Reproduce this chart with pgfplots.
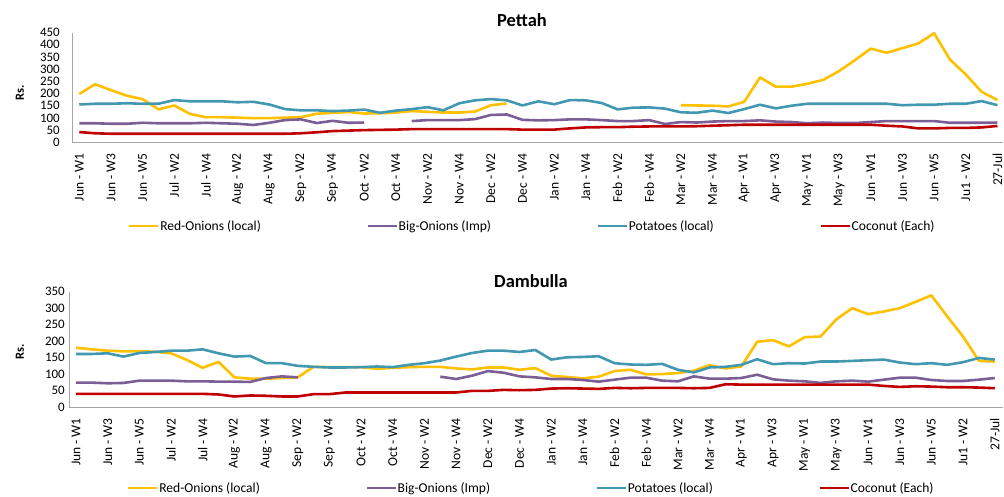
\documentclass[border=0pt]{standalone}
\usepackage{fontspec}
\setmainfont{Carlito}
\usepackage{pgfplots}
\usepackage{pgfplotstable}
\pgfplotsset{compat=1.18}

\definecolor{ronion}{HTML}{FFC000}
\definecolor{bonion}{HTML}{7B5E95}
\definecolor{potato}{HTML}{4298B0}
\definecolor{coconut}{HTML}{C00000}
\definecolor{axisgray}{HTML}{A6A6A6}

% weekly prices, Rs.  (ro = red onions, bo = big onions, po = potatoes, co = coconut)
\pgfplotstableread{
x ro bo po co
0 198 78 155 42
1 238 78 158 37
2 214 76 158 35
3 191 76 160 35
4 177 80 158 35
5 135 78 158 35
6 151 78 173 35
7 116 78 168 35
8 103 80 168 35
9 103 78 168 35
10 101 76 164 35
11 99 71 166 35
12 99 80 155 35
13 101 91 136 35
14 103 94 131 37
15 117 79 131 41
16 121 88 128 46
17 124 80 130 48
18 118 81 134 50
19 119 nan 121 51
20 122 nan 130 52
21 128 87 136 54
22 125 91 144 54
23 122 91 131 54
24 122 91 160 54
25 126 95 172 54
26 152 112 177 54
27 159 114 172 54
28 nan 92 151 52
29 nan 90 168 52
30 nan 91 156 52
31 nan 94 173 57
32 nan 94 172 61
33 nan 91 161 62
34 nan 87 135 62
35 nan 87 142 64
36 nan 91 143 65
37 nan 75 138 65
38 152 83 123 65
39 151 81 121 66
40 150 85 130 68
41 147 87 120 70
42 166 87 136 72
43 266 90 154 72
44 228 85 139 72
45 228 83 150 72
46 240 78 158 72
47 256 81 158 72
48 292 79 158 72
49 337 79 158 72
50 384 83 158 72
51 367 87 158 68
52 386 87 152 65
53 405 87 154 57
54 447 87 154 57
55 339 80 158 59
56 278 80 158 59
57 207 80 169 61
58 173 81 152 67
}\pettah

\pgfplotstableread{
x ro bo po co
0 180 74 161 40
1 175 74 161 40
2 171 72 163 40
3 169 73 153 40
4 169 80 164 40
5 168 80 167 40
6 163 80 171 40
7 143 78 171 40
8 119 78 175 40
9 137 77 163 38
10 90 77 153 32
11 86 76 155 35
12 86 88 133 34
13 88 93 133 32
14 90 90 125 32
15 122 nan 122 39
16 121 nan 120 39
17 121 nan 120 44
18 121 nan 121 44
19 116 nan 123 44
20 119 nan 121 44
21 121 nan 128 44
22 122 nan 133 44
23 122 92 141 44
24 117 85 153 44
25 114 95 164 49
26 120 109 171 49
27 120 104 171 52
28 113 93 167 51
29 118 90 173 52
30 95 85 144 56
31 91 85 151 57
32 87 82 152 56
33 92 77 154 55
34 109 83 133 58
35 113 89 129 57
36 99 89 128 58
37 100 80 131 58
38 103 78 113 58
39 110 93 105 57
40 127 86 120 58
41 117 86 122 69
42 123 88 128 68
43 198 98 145 68
44 203 84 130 68
45 184 80 133 68
46 212 78 132 68
47 214 73 138 68
48 266 78 138 68
49 300 80 140 68
50 282 77 142 68
51 290 83 144 64
52 300 89 135 61
53 319 89 130 63
54 339 82 133 62
55 275 79 128 60
56 214 79 136 60
57 140 83 149 59
58 138 88 144 57
}\dambulla

\pgfplotsset{
  market/.style={
    scale only axis,
    anchor=south west,
    axis x line*=bottom,
    axis y line*=left,
    axis line style={axisgray, line width=1bp},
    major tick length=0pt,
    unbounded coords=jump,
    ymin=0,
    /pgf/number format/assume math mode=true,
    xtick={0,2,...,58},
    xticklabels={Jun - W1,Jun - W3,Jun - W5,Jul - W2,Jul - W4,Aug - W2,Aug - W4,
      Sep - W2,Sep - W4,Oct - W2,Oct - W4,Nov - W2,Nov - W4,Dec - W2,Dec - W4,
      Jan - W2,Jan - W4,Feb - W2,Feb - W4,Mar - W2,Mar - W4,Apr - W1,Apr - W3,
      May - W1,May - W3,Jun - W1,Jun - W3,Jun - W5,Ju1 - W2,27-Jul},
    xticklabel style={font=\fontsize{13.6}{15}\selectfont, yshift=-11bp,
      rotate=90, anchor=east, inner sep=0pt},
    yticklabel style={font=\fontsize{13}{13}\selectfont, anchor=east, inner sep=0pt},
    every axis plot/.append style={line width=2.6bp, line join=round, no markers},
    legend columns=4,
    legend cell align=left,
    legend image code/.code={\draw[##1] (0bp,0bp) -- (29bp,0bp);},
    legend style={draw=none, fill=none, inner sep=0pt, anchor=west,
      font=\fontsize{13.6}{15}\selectfont,
      nodes={inner sep=0.6bp},
      /tikz/every even column/.append style={column sep=105bp}},
  }
}

\begin{document}
\begin{tikzpicture}
\path[use as bounding box] (0bp,-497bp) rectangle (1004bp,0bp);

\begin{axis}[market, at={(72bp,-142.3bp)}, width=931bp, height=109.8bp,
    xmin=-0.46, xmax=58.35, ymax=450, ytick={0,50,...,450},
    yticklabel style={xshift=-12bp},
    legend style={at={(0.06,-0.762)}}]
\addplot[ronion] table[x=x,y=ro] {\pettah};
\addplot[bonion] table[x=x,y=bo] {\pettah};
\addplot[potato] table[x=x,y=po] {\pettah};
\addplot[coconut] table[x=x,y=co] {\pettah};
\legend{Red-Onions (local),Big-Onions (Imp),Potatoes (local),Coconut (Each)}
\end{axis}

\begin{axis}[market, at={(69bp,-407bp)}, width=934bp, height=115.3bp,
    xmin=-0.44, xmax=58.52, ymax=350, ytick={0,50,...,350},
    yticklabel style={xshift=-4bp},
    legend style={at={(0.062,-0.702)}}]
\addplot[ronion] table[x=x,y=ro] {\dambulla};
\addplot[bonion] table[x=x,y=bo] {\dambulla};
\addplot[potato] table[x=x,y=po] {\dambulla};
\addplot[coconut] table[x=x,y=co] {\dambulla};
\legend{Red-Onions (local),Big-Onions (Imp),Potatoes (local),Coconut (Each)}
\end{axis}

\node[font=\fontsize{18.5}{22}\selectfont\bfseries] at (522bp,-20bp) {Pettah};
\node[font=\fontsize{18.5}{22}\selectfont\bfseries] at (531bp,-281bp) {Dambulla};
\node[font=\fontsize{12.5}{14}\selectfont\bfseries, rotate=90] at (20bp,-93bp) {Rs.};
\node[font=\fontsize{12.5}{14}\selectfont\bfseries, rotate=90] at (20bp,-352bp) {Rs.};
\end{tikzpicture}
\end{document}
